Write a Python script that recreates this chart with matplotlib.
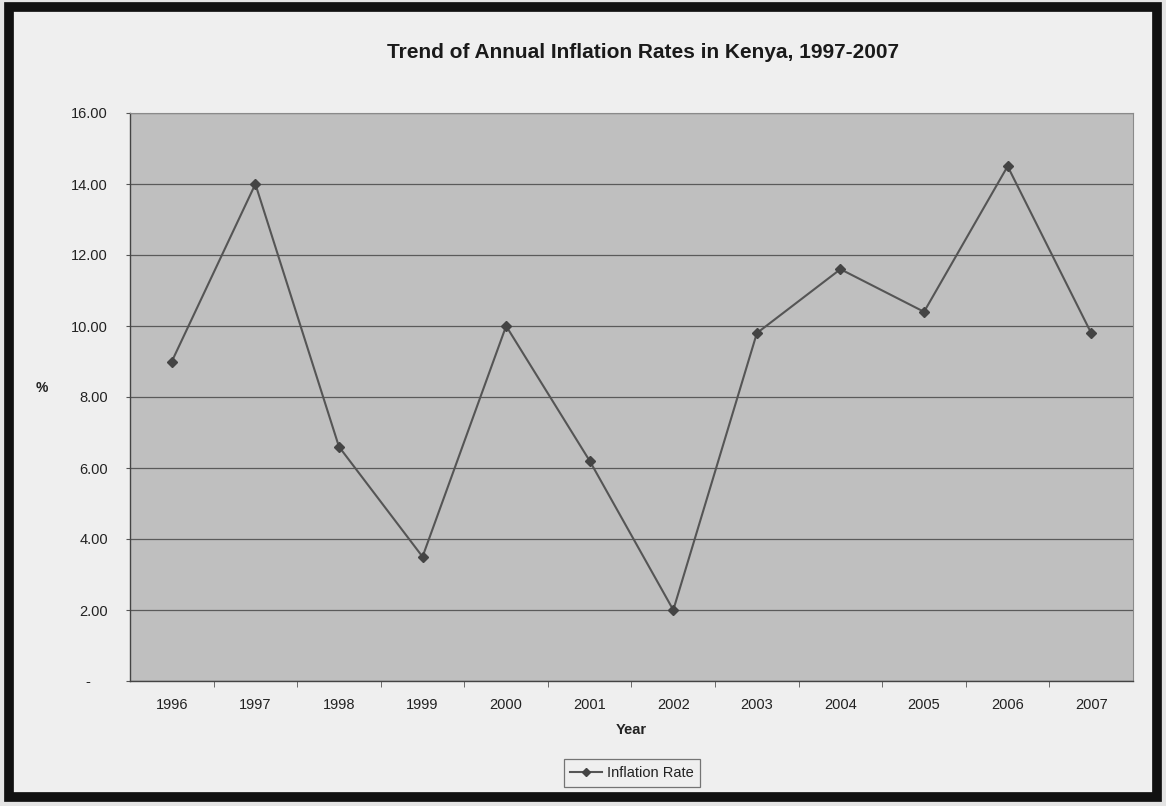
import matplotlib
matplotlib.use("Agg")
import matplotlib.pyplot as plt
from matplotlib.patches import Rectangle
from matplotlib.ticker import FuncFormatter, FixedLocator

YEARS = ["1996", "1997", "1998", "1999", "2000", "2001",
         "2002", "2003", "2004", "2005", "2006", "2007"]
INFLATION_RATE = [9.0, 14.0, 6.6, 3.5, 10.0, 6.2, 2.0, 9.8, 11.6, 10.4, 14.5, 9.8]
Y_TICKS = [0, 2, 4, 6, 8, 10, 12, 14, 16]

TITLE = "Trend of Annual Inflation Rates in Kenya, 1997-2007"
OUTPUT_PATH = "out.png"
FIG_W, FIG_H, DPI = 11.66, 8.06, 100

LINE_COLOR = "#555555"
PLOT_BG = "#bfbfbf"
CHART_BG = "#efefef"
GRID_COLOR = "#5a5a5a"

plt.rcParams["font.family"] = ["Liberation Sans", "DejaVu Sans"]


def accounting_fmt(v, _pos):
    # zero shown as a dash, like a spreadsheet accounting format
    if abs(v) < 1e-9:
        return "-    "
    return f"{v:.2f}"


def make_plot():
    fig = plt.figure(figsize=(FIG_W, FIG_H), dpi=DPI, facecolor="#e4e4e4")

    # chart frame with thick black border, kept behind the axes
    frame = Rectangle((9 / 1166, 9 / 806), 1148 / 1166, 790 / 806,
                      transform=fig.transFigure, facecolor=CHART_BG,
                      edgecolor="#111111", linewidth=7, zorder=-10)
    fig.patches.append(frame)

    ax = fig.add_axes([130 / 1166, 1 - 681 / 806, 1003 / 1166, 568 / 806])
    ax.set_zorder(1)
    ax.set_facecolor(PLOT_BG)

    x = list(range(len(YEARS)))
    ax.plot(x, INFLATION_RATE, color=LINE_COLOR, linewidth=1.5,
            marker="D", markersize=5, markerfacecolor="#444444",
            markeredgecolor="#444444", label="Inflation Rate", zorder=3)

    ax.set_xlim(-0.5, len(YEARS) - 0.5)
    ax.set_ylim(0, 16)

    ax.yaxis.set_major_locator(FixedLocator(Y_TICKS))
    ax.yaxis.set_major_formatter(FuncFormatter(accounting_fmt))
    ax.grid(axis="y", color=GRID_COLOR, linewidth=0.9)
    ax.set_axisbelow(True)

    # category labels centred on points, ticks between categories
    ax.set_xticks(x)
    ax.set_xticklabels(YEARS)
    ax.set_xticks([i + 0.5 for i in x[:-1]], minor=True)
    ax.tick_params(axis="x", which="major", length=0, pad=12, labelsize=10.5,
                   labelcolor="#222222")
    ax.tick_params(axis="x", which="minor", length=4, color="#555555",
                   direction="out")
    ax.tick_params(axis="y", length=3, color="#555555", pad=13, labelsize=10.5,
                   labelcolor="#222222")

    for side in ["left", "bottom"]:
        ax.spines[side].set_color("#444444")
        ax.spines[side].set_linewidth(1.0)
    for side in ["top", "right"]:
        ax.spines[side].set_color("#8a8a8a")
        ax.spines[side].set_linewidth(0.8)

    ax.set_xlabel("Year", fontsize=10.5, fontweight="bold", color="#222222",
                  labelpad=8)
    fig.text(42 / 1166, 1 - 388 / 806, "%", fontsize=10, fontweight="bold",
             color="#222222", ha="center", va="center")

    fig.text(643 / 1166, 1 - 53 / 806, TITLE, fontsize=15, fontweight="bold",
             color="#1a1a1a", ha="center", va="center")

    leg = fig.legend(loc="center", bbox_to_anchor=(632 / 1166, 1 - 773 / 806),
                     fontsize=10.5, frameon=True, fancybox=False,
                     handlelength=2.2, handletextpad=0.3, borderpad=0.45,
                     borderaxespad=0, markerscale=0.8)
    leg.get_frame().set_edgecolor("#555555")
    leg.get_frame().set_facecolor(CHART_BG)
    leg.get_frame().set_linewidth(0.9)
    for t in leg.get_texts():
        t.set_color("#222222")

    fig.savefig(OUTPUT_PATH, dpi=DPI, facecolor=fig.get_facecolor())


if __name__ == "__main__":
    make_plot()
